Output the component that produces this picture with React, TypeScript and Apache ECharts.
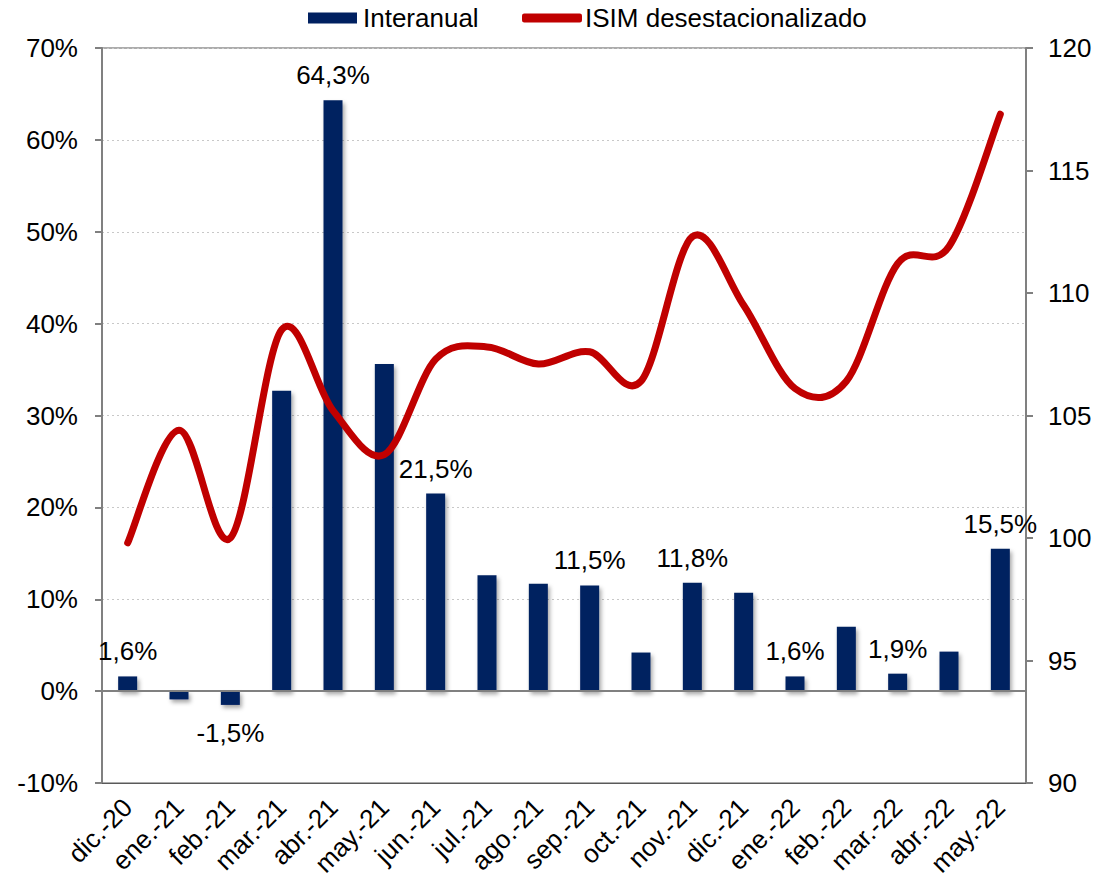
import React, { useEffect, useRef } from "react";
import * as echarts from "echarts";

const categories = [
  "dic.-20", "ene.-21", "feb.-21", "mar.-21", "abr.-21", "may.-21", "jun.-21", "jul.-21", "ago.-21",
  "sep.-21", "oct.-21", "nov.-21", "dic.-21", "ene.-22", "feb.-22", "mar.-22", "abr.-22", "may.-22",
];
const interanual = [1.6, -0.9, -1.5, 32.7, 64.3, 35.6, 21.5, 12.6, 11.7, 11.5, 4.2, 11.8, 10.7, 1.6, 7.0, 1.9, 4.3, 15.5];
const labeled = [true, false, true, false, true, false, true, false, false, true, false, true, false, true, false, true, false, true];
const isim = [99.8, 104.4, 100.0, 108.5, 105.2, 103.4, 107.3, 107.8, 107.1, 107.6, 106.4, 112.3, 109.5, 106.1, 106.4, 111.2, 111.9, 117.3];
const leftTicks = { min: -10, max: 70, interval: 10 };
const rightTicks = { min: 90, max: 120, interval: 5 };

const FONT = "'Liberation Sans', Arial, sans-serif";
const RED = "#C00000";
const NAVY = "#002060";

export default function App() {
  const ref = useRef<HTMLDivElement>(null);
  useEffect(() => {
    const chart = echarts.init(ref.current!, undefined, { renderer: "svg" });
    const fmt = (v: number) => v.toFixed(1).replace(".", ",") + "%";
    chart.setOption({
      animation: false,
      textStyle: { fontFamily: FONT },
      legend: [
        {
          left: 303,
          top: 0,
          itemWidth: 49,
          itemHeight: 11,
          textStyle: { fontSize: 26, color: "#000", fontFamily: FONT, padding: [0, 0, 0, 1] },
          data: [{ name: "Interanual", icon: "rect", itemStyle: { color: NAVY } }],
        },
        {
          left: 517,
          top: 0,
          itemWidth: 60,
          itemHeight: 9,
          textStyle: { fontSize: 26, color: "#000", fontFamily: FONT, padding: [0, 0, 0, -2] },
          data: [{ name: "ISIM desestacionalizado", icon: "roundRect", itemStyle: { color: RED } }],
        },
      ],
      grid: {
        left: 102,
        right: 79,
        top: 48,
        bottom: 100,
        show: true,
        borderColor: "#595959",
        borderWidth: 1,
      },
      xAxis: {
        type: "category",
        data: categories,
        axisLine: { onZero: false, lineStyle: { color: "#595959" } },
        axisTick: { show: false },
        axisLabel: {
          rotate: 45,
          fontSize: 26,
          color: "#000",
          margin: 20,
          interval: 0,
          fontFamily: FONT,
        },
      },
      yAxis: [
        {
          type: "value",
          min: leftTicks.min,
          max: leftTicks.max,
          interval: leftTicks.interval,
          axisLine: { show: true, lineStyle: { color: "#808080", width: 2 } },
          axisTick: { show: true, length: 7, lineStyle: { color: "#808080", width: 2 } },
          axisLabel: { formatter: (v: number) => v + "%", fontSize: 26, color: "#000", margin: 24, fontFamily: FONT },
          splitLine: { show: true, lineStyle: { color: "#c8c8c8", type: [2, 3], width: 1 } },
        },
        {
          type: "value",
          min: rightTicks.min,
          max: rightTicks.max,
          interval: rightTicks.interval,
          position: "right",
          axisLine: { show: true, lineStyle: { color: "#808080", width: 2 } },
          axisTick: { show: true, length: 7, lineStyle: { color: "#808080", width: 2 } },
          axisLabel: { fontSize: 26, color: "#000", margin: 22, fontFamily: FONT },
          splitLine: { show: false },
        },
      ],
      series: [
        {
          name: "Interanual",
          type: "bar",
          yAxisIndex: 0,
          barWidth: 19,
          itemStyle: {
            color: NAVY,
            shadowBlur: 4,
            shadowOffsetX: 2,
            shadowOffsetY: 3,
            shadowColor: "rgba(0,0,0,0.35)",
          },
          data: interanual.map((v, i) => ({
            value: v,
            label: {
              show: labeled[i],
              position: v < 0 ? "bottom" : "top",
              distance: v < 0 ? 15 : 12,
              formatter: () => fmt(v),
              fontSize: 26,
              color: "#000",
              fontFamily: FONT,
            },
          })),
          markLine: {
            silent: true,
            symbol: "none",
            label: { show: false },
            lineStyle: { color: "#808080", width: 2, type: "solid" },
            data: [{ yAxis: 0 }],
          },
          z: 2,
        },
        {
          name: "ISIM desestacionalizado",
          type: "custom",
          yAxisIndex: 1,
          data: isim.map((v, i) => [i, v]),
          encode: { x: 0, y: 1 },
          itemStyle: { color: RED },
          z: 3,
          renderItem: (params: any, api: any) => {
            if (params.dataIndex !== 0) return { type: "group", children: [] };
            const pts = isim.map((v, i) => api.coord([i, v]));
            const n = pts.length;
            let d = `M${pts[0][0]},${pts[0][1]}`;
            for (let i = 0; i < n - 1; i++) {
              const p0 = pts[Math.max(0, i - 1)];
              const p1 = pts[i];
              const p2 = pts[i + 1];
              const p3 = pts[Math.min(n - 1, i + 2)];
              const c1x = p1[0] + (p2[0] - p0[0]) / 6;
              const c1y = p1[1] + (p2[1] - p0[1]) / 6;
              const c2x = p2[0] - (p3[0] - p1[0]) / 6;
              const c2y = p2[1] - (p3[1] - p1[1]) / 6;
              d += ` C${c1x},${c1y} ${c2x},${c2y} ${p2[0]},${p2[1]}`;
            }
            return {
              type: "path",
              shape: { pathData: d },
              style: { stroke: RED, lineWidth: 7, fill: "none", lineCap: "round", lineJoin: "round" },
            };
          },
        },
      ],
    });
    return () => chart.dispose();
  }, []);
  return <div ref={ref} style={{ width: 1105, height: 883, position: "absolute", left: 0, top: 0 }} />;
}
